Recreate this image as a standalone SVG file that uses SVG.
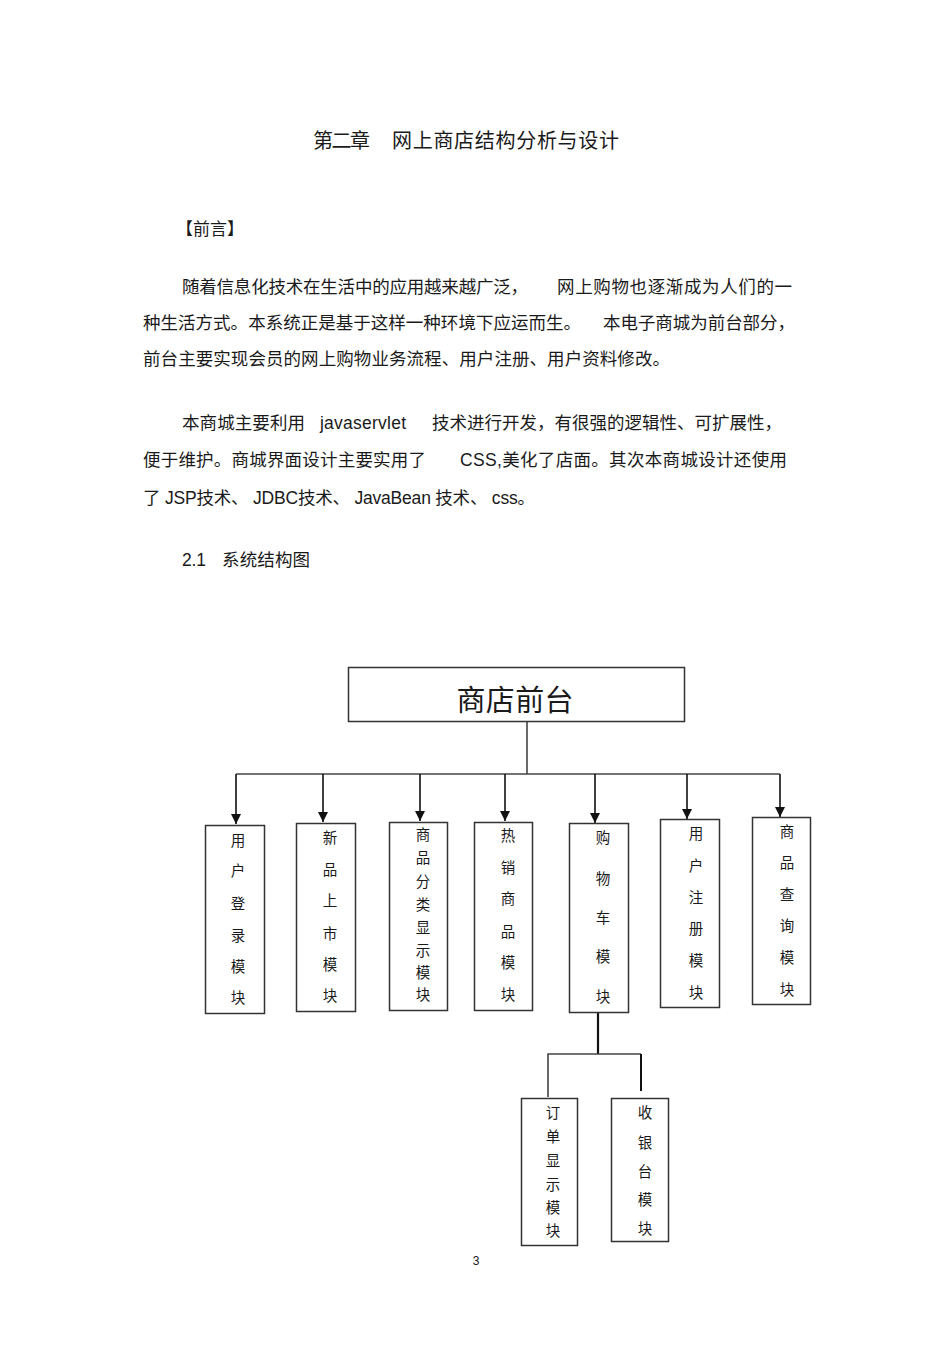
<svg xmlns="http://www.w3.org/2000/svg" width="950" height="1345" viewBox="0 0 950 1345">
<style>
.t{font-family:"Liberation Sans","Noto Sans CJK SC",sans-serif;fill:#1a1a1a}
.b{font-size:17.5px}
.box{fill:#fff;stroke:#333;stroke-width:1.5}
.v{font-family:"Noto Sans CJK SC",sans-serif;font-size:14.5px;fill:#1a1a1a;text-anchor:middle}
.ln{fill:none;stroke:#444;stroke-width:1.6}
.ar{fill:none;stroke:#111;stroke-width:1.6}
</style>
<defs>
<marker id="ah" viewBox="0 0 10 10" refX="10" refY="5" markerUnits="userSpaceOnUse" markerWidth="10" markerHeight="10" orient="auto">
<path d="M0,0 L10,5 L0,10 z" fill="#111"/>
</marker>
</defs>
<rect width="950" height="1345" fill="#fff"/>

<g id="text">
<text class="t" x="313" y="148" font-size="20" textLength="57">第二章</text>
<text class="t" x="392" y="148" font-size="20" textLength="227">网上商店结构分析与设计</text>
<text class="t" x="176" y="235" font-size="17">【前言】</text>
<text class="t b" x="182" y="293" textLength="346">随着信息化技术在生活中的应用越来越广泛，</text>
<text class="t b" x="557" y="293" textLength="235">网上购物也逐渐成为人们的一</text>
<text class="t b" x="143" y="329" textLength="438">种生活方式。本系统正是基于这样一种环境下应运而生。</text>
<text class="t b" x="603" y="329" textLength="192">本电子商城为前台部分，</text>
<text class="t b" x="143" y="365" textLength="527">前台主要实现会员的网上购物业务流程、用户注册、用户资料修改。</text>
<text class="t b" x="182" y="429" textLength="123">本商城主要利用</text>
<text class="t b" x="320" y="429" textLength="86">javaservlet</text>
<text class="t b" x="432" y="429" textLength="350">技术进行开发，有很强的逻辑性、可扩展性，</text>
<text class="t b" x="143" y="466" textLength="283">便于维护。商城界面设计主要实用了</text>
<text class="t b" x="460" y="466" textLength="327">CSS,美化了店面。其次本商城设计还使用</text>
<text class="t b" x="143" y="504" textLength="392">了 JSP技术、 JDBC技术、 JavaBean 技术、 css。</text>
<text class="t b" x="182" y="566" textLength="24">2.1</text>
<text class="t b" x="222" y="566" textLength="88">系统结构图</text>
<text class="t" x="476" y="1265" font-size="12" text-anchor="middle">3</text>
</g>

<g id="connectors">
<polyline class="ln" points="527,721 527,774"/>
<polyline class="ln" points="236,774 780,774"/>
<line class="ar" x1="236" y1="774" x2="236" y2="824" marker-end="url(#ah)"/>
<line class="ar" x1="323" y1="774" x2="323" y2="822" marker-end="url(#ah)"/>
<line class="ar" x1="420" y1="774" x2="420" y2="821" marker-end="url(#ah)"/>
<line class="ar" x1="505" y1="774" x2="505" y2="821" marker-end="url(#ah)"/>
<line class="ar" x1="595" y1="774" x2="595" y2="823" marker-end="url(#ah)"/>
<line class="ar" x1="687" y1="774" x2="687" y2="819" marker-end="url(#ah)"/>
<line class="ar" x1="780" y1="774" x2="780" y2="817" marker-end="url(#ah)"/>
<line x1="598" y1="1012" x2="598" y2="1054" stroke="#111" stroke-width="2.2"/>
<polyline class="ln" points="548,1097 548,1054 641,1054"/>
<line x1="641" y1="1054" x2="641" y2="1091" stroke="#111" stroke-width="2"/>
</g>

<g id="root">
<rect class="box" x="348.5" y="667.5" width="336" height="54"/>
<text class="t" x="515" y="711" font-size="29" text-anchor="middle" textLength="117">商店前台</text>
</g>

<g id="n1">
<rect class="box" x="205.5" y="825.5" width="59" height="188" stroke-width="2"/>
<text class="v"><tspan x="238" y="846">用</tspan><tspan x="238" y="876">户</tspan><tspan x="238" y="909">登</tspan><tspan x="238" y="941">录</tspan><tspan x="238" y="972">模</tspan><tspan x="238" y="1003">块</tspan></text>
</g>
<g id="n2">
<rect class="box" x="296.5" y="823.5" width="59" height="188" stroke-width="2"/>
<text class="v"><tspan x="330" y="843">新</tspan><tspan x="330" y="875">品</tspan><tspan x="330" y="906">上</tspan><tspan x="330" y="939">市</tspan><tspan x="330" y="970">模</tspan><tspan x="330" y="1001">块</tspan></text>
</g>
<g id="n3">
<rect class="box" x="389.5" y="822.5" width="58" height="188"/>
<text class="v"><tspan x="423" y="840">商</tspan><tspan x="423" y="863">品</tspan><tspan x="423" y="887">分</tspan><tspan x="423" y="910">类</tspan><tspan x="423" y="933">显</tspan><tspan x="423" y="956">示</tspan><tspan x="423" y="978">模</tspan><tspan x="423" y="1000">块</tspan></text>
</g>
<g id="n4">
<rect class="box" x="474.5" y="822.5" width="58" height="188"/>
<text class="v"><tspan x="508" y="841">热</tspan><tspan x="508" y="873">销</tspan><tspan x="508" y="904">商</tspan><tspan x="508" y="937">品</tspan><tspan x="508" y="968">模</tspan><tspan x="508" y="1000">块</tspan></text>
</g>
<g id="n5">
<rect class="box" x="569.5" y="823.5" width="59" height="189"/>
<text class="v"><tspan x="603" y="843">购</tspan><tspan x="603" y="884">物</tspan><tspan x="603" y="923">车</tspan><tspan x="603" y="962">模</tspan><tspan x="603" y="1002">块</tspan></text>
</g>
<g id="n6">
<rect class="box" x="660.5" y="819.5" width="59" height="188" stroke="#111" stroke-width="2.2"/>
<text class="v"><tspan x="696" y="839">用</tspan><tspan x="696" y="871">户</tspan><tspan x="696" y="903">注</tspan><tspan x="696" y="934">册</tspan><tspan x="696" y="966">模</tspan><tspan x="696" y="998">块</tspan></text>
</g>
<g id="n7">
<rect class="box" x="752.5" y="817.5" width="58" height="187"/>
<text class="v"><tspan x="787" y="837">商</tspan><tspan x="787" y="868">品</tspan><tspan x="787" y="900">查</tspan><tspan x="787" y="931">询</tspan><tspan x="787" y="963">模</tspan><tspan x="787" y="995">块</tspan></text>
</g>
<g id="n8">
<rect class="box" x="521.5" y="1098.5" width="56" height="147" stroke-width="1.8"/>
<text class="v"><tspan x="553" y="1118">订</tspan><tspan x="553" y="1142">单</tspan><tspan x="553" y="1166">显</tspan><tspan x="553" y="1190">示</tspan><tspan x="553" y="1213">模</tspan><tspan x="553" y="1236">块</tspan></text>
</g>
<g id="n9">
<rect class="box" x="611.5" y="1098.5" width="57" height="143"/>
<text class="v"><tspan x="645" y="1118">收</tspan><tspan x="645" y="1148">银</tspan><tspan x="645" y="1177">台</tspan><tspan x="645" y="1205">模</tspan><tspan x="645" y="1234">块</tspan></text>
</g>
</svg>
